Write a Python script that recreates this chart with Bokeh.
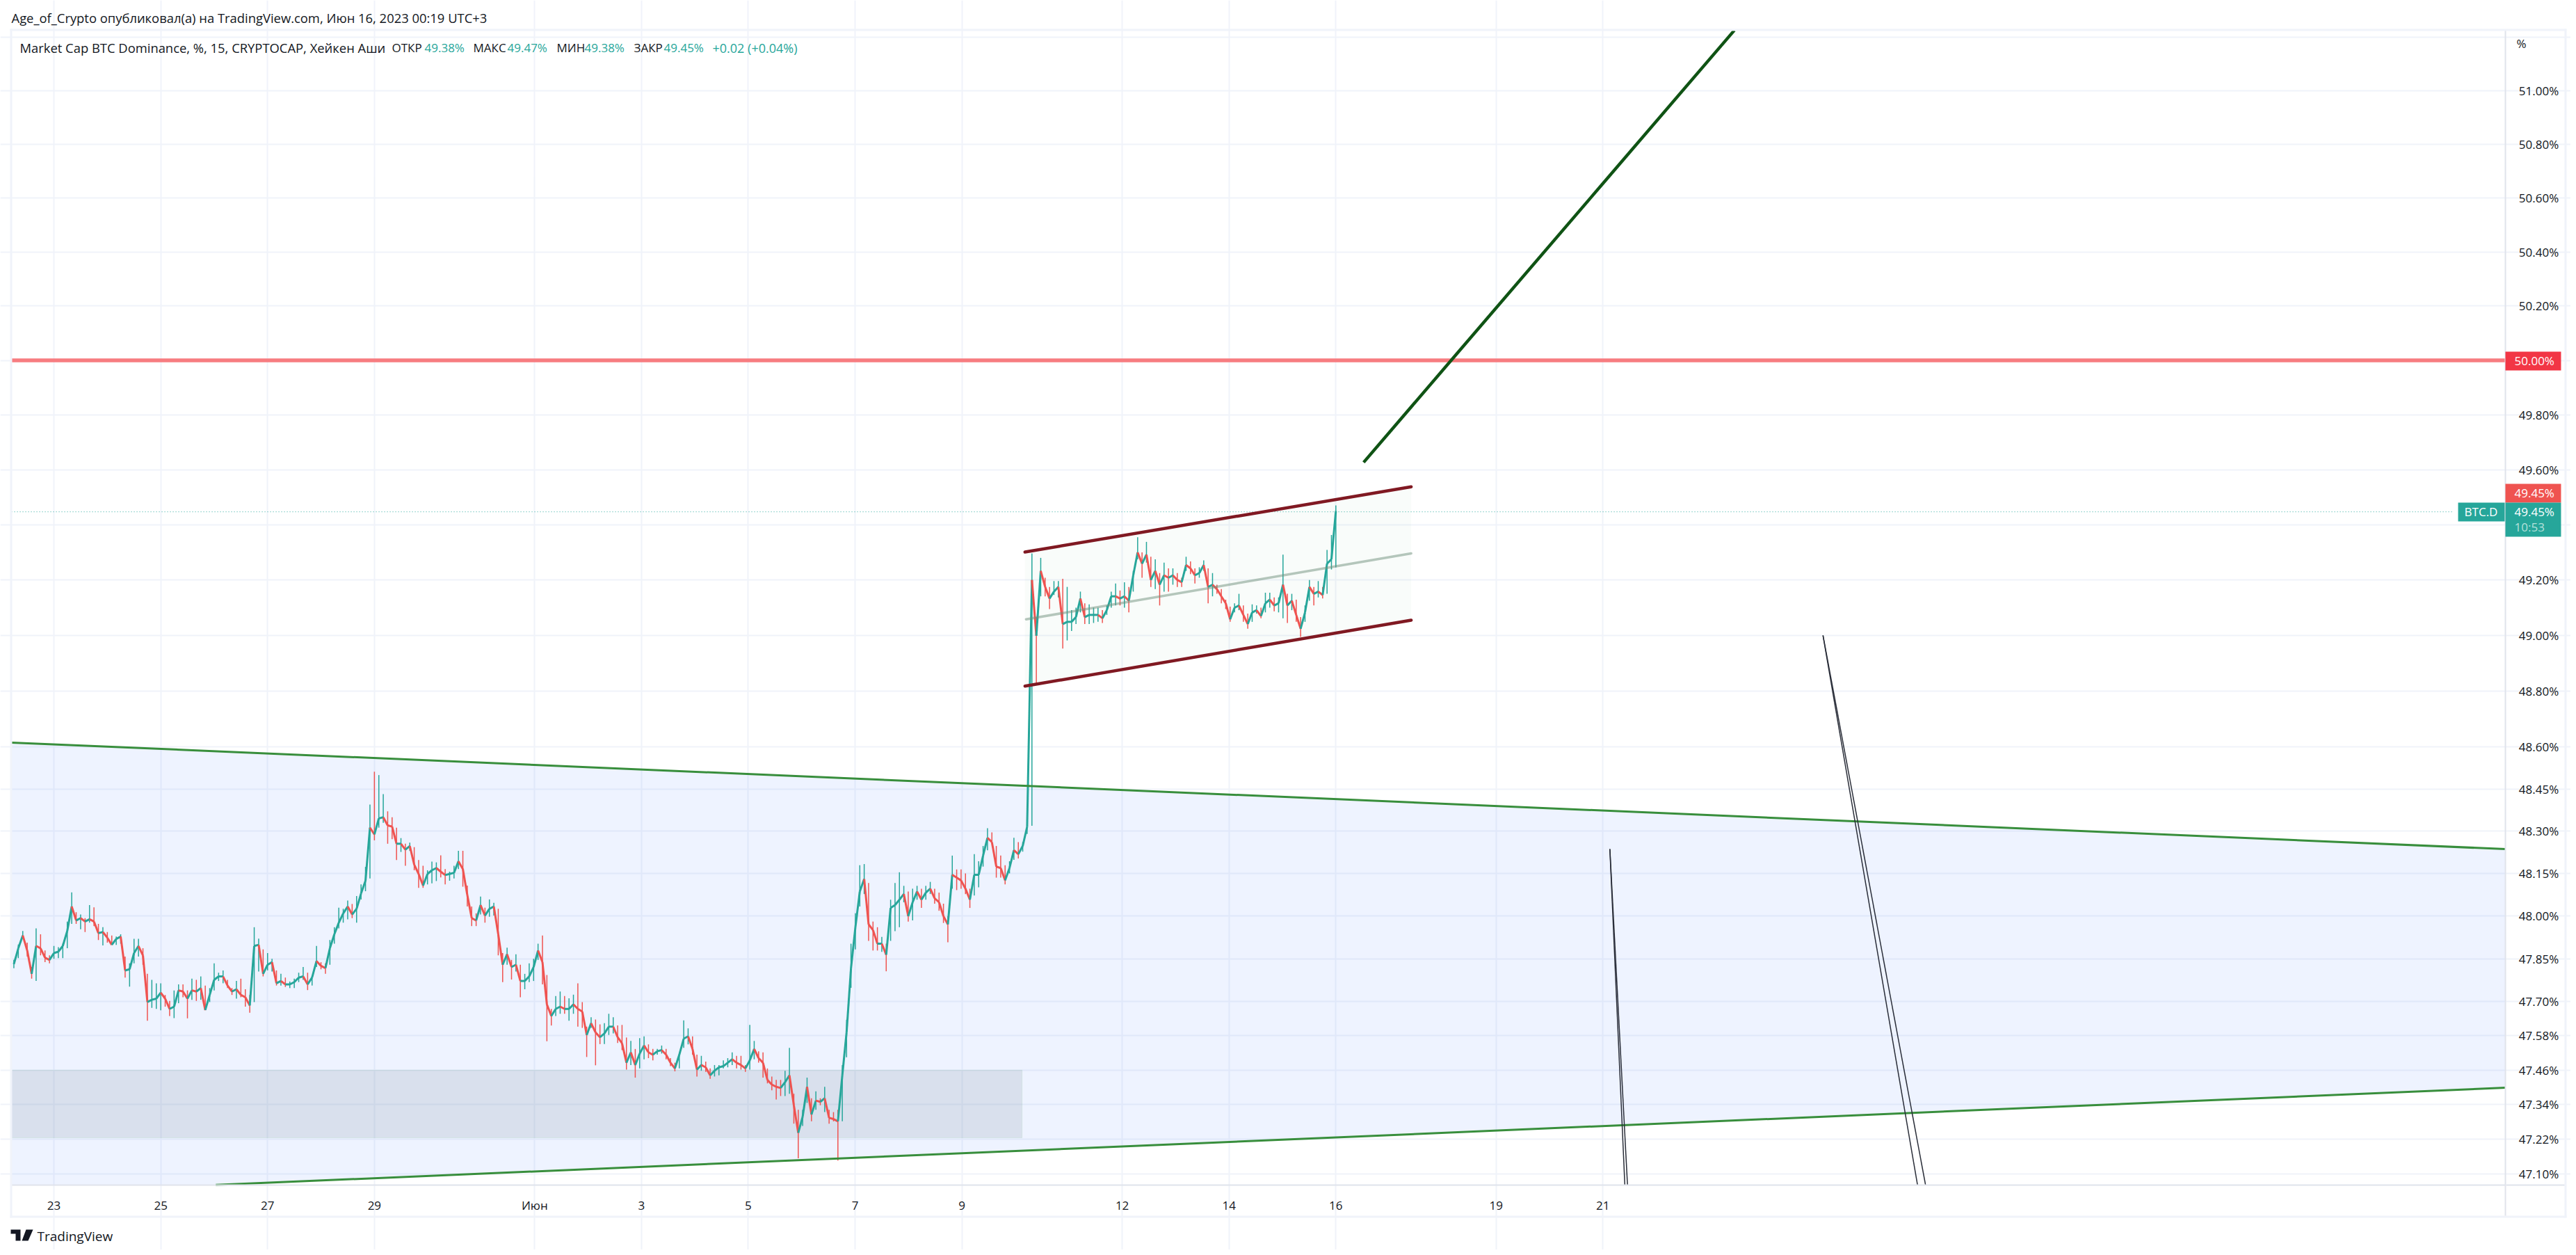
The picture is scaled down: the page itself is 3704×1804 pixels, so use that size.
import numpy as np
import pandas as pd

from bokeh.embed import file_html
from bokeh.models import (BoxAnnotation, ColumnDataSource, FixedTicker, Label,
                          PolyAnnotation, PrintfTickFormatter)
from bokeh.plotting import figure
from bokeh.resources import INLINE

# x axis is the day counted from May 1 = 1, so Jun 1 = 32
day_ticks = [23, 25, 27, 29, 32, 34, 36, 38, 40, 43, 45, 47, 50, 52]
day_labels = {23: "23", 25: "25", 27: "27", 29: "29", 32: "Июн", 34: "3", 36: "5", 38: "7",
              40: "9", 43: "12", 45: "14", 47: "16", 50: "19", 52: "21"}
price_ticks = [47.10, 47.22, 47.34, 47.46, 47.58, 47.70, 47.85, 48.00, 48.15, 48.30, 48.45, 48.60,
               48.80, 49.00, 49.20, 49.40, 49.60, 49.80, 50.00, 50.20, 50.40, 50.60, 50.80, 51.00, 51.20]

# the price pane inside the canvas, the axes are pinned to it
pane_days = (22.206, 68.9)
pane_prices = (47.0615, 51.227)

# 2 hour bars, one block per stretch of days
days_1 = (22.25, 23.0)
high_1 = [47.846, 47.90, 47.948, 47.907, 47.821, 47.957, 47.936, 47.879, 47.862, 47.895]
low_1 = [47.817, 47.852, 47.921, 47.858, 47.78, 47.772, 47.862, 47.838, 47.834, 47.85]
close_1 = [47.831, 47.887, 47.932, 47.879, 47.797, 47.895, 47.887, 47.854, 47.846, 47.87]

days_2 = (23.083, 25.0)
high_2 = [47.891, 47.903, 47.981, 48.084, 48.014, 48.006, 47.993, 48.039, 48.031, 47.973, 47.961, 47.944,
          47.932, 47.928, 47.936, 47.858, 47.834, 47.92, 47.92, 47.887, 47.797, 47.776, 47.764, 47.764]
low_2 = [47.852, 47.852, 47.887, 47.973, 47.973, 47.954, 47.944, 47.977, 47.965, 47.916, 47.897, 47.907,
         47.899, 47.899, 47.903, 47.784, 47.752, 47.834, 47.858, 47.829, 47.633, 47.678, 47.674, 47.669]
close_2 = [47.875, 47.895, 47.948, 48.034, 47.985, 47.993, 47.981, 47.989, 47.981, 47.94, 47.944, 47.924,
           47.899, 47.92, 47.928, 47.809, 47.813, 47.87, 47.895, 47.862, 47.698, 47.706, 47.71, 47.731]

days_3 = (25.083, 27.0)
high_3 = [47.723, 47.702, 47.739, 47.76, 47.76, 47.739, 47.78, 47.776, 47.788, 47.756, 47.747, 47.834,
          47.801, 47.809, 47.776, 47.747, 47.772, 47.78, 47.743, 47.723, 47.961, 47.921, 47.883, 47.87]
low_3 = [47.682, 47.649, 47.642, 47.694, 47.715, 47.641, 47.706, 47.702, 47.706, 47.669, 47.698, 47.739,
         47.772, 47.764, 47.747, 47.723, 47.71, 47.715, 47.682, 47.661, 47.698, 47.805, 47.788, 47.809]
close_3 = [47.71, 47.674, 47.682, 47.739, 47.735, 47.71, 47.739, 47.735, 47.747, 47.67, 47.723, 47.776,
           47.788, 47.788, 47.756, 47.735, 47.743, 47.723, 47.715, 47.686, 47.895, 47.899, 47.797, 47.829]

days_4 = (27.083, 29.0)
high_4 = [47.85, 47.809, 47.797, 47.784, 47.77, 47.78, 47.801, 47.821, 47.801, 47.788, 47.895, 47.838,
          47.834, 47.916, 47.961, 48.03, 48.026, 48.055, 48.043, 48.071, 48.112, 48.174, 48.395, 48.512]
low_4 = [47.805, 47.756, 47.756, 47.751, 47.747, 47.747, 47.768, 47.776, 47.74, 47.756, 47.821, 47.813,
         47.797, 47.829, 47.903, 47.957, 47.977, 47.989, 47.993, 47.977, 48.059, 48.088, 48.133, 48.268]
close_4 = [47.838, 47.764, 47.772, 47.76, 47.76, 47.768, 47.784, 47.788, 47.76, 47.784, 47.842, 47.825,
           47.817, 47.887, 47.936, 47.977, 48.01, 48.034, 48.006, 48.026, 48.08, 48.125, 48.313, 48.289]

days_5 = (29.083, 33.554)
high_5 = [48.5, 48.432, 48.371, 48.35, 48.313, 48.276, 48.256, 48.26, 48.244, 48.198, 48.178,
          48.162, 48.193, 48.19, 48.215, 48.166, 48.157, 48.178, 48.231, 48.231, 48.108, 48.034, 48.01,
          48.069, 48.03, 48.059, 48.047, 48.026, 47.87, 47.889, 47.846, 47.866, 47.829, 47.797, 47.834,
          47.85, 47.903, 47.932, 47.793, 47.674, 47.719, 47.735, 47.719, 47.711, 47.724, 47.764, 47.698,
          47.612, 47.645, 47.637, 47.62, 47.624, 47.657, 47.645, 47.616]
low_5 = [48.313, 48.33, 48.256, 48.272, 48.198, 48.227, 48.178, 48.231, 48.162, 48.1, 48.1,
         48.112, 48.116, 48.124, 48.137, 48.112, 48.125, 48.133, 48.166, 48.104, 48.034, 47.965, 47.965,
         48.006, 47.977, 47.998, 48.002, 47.862, 47.768, 47.829, 47.777, 47.805, 47.715, 47.743, 47.768,
         47.772, 47.846, 47.76, 47.561, 47.616, 47.649, 47.657, 47.657, 47.633, 47.657, 47.612, 47.608,
         47.506, 47.608, 47.477, 47.551, 47.551, 47.583, 47.588, 47.555]
close_5 = [48.346, 48.35, 48.321, 48.317, 48.256, 48.256, 48.235, 48.248, 48.182, 48.149, 48.108,
           48.149, 48.162, 48.17, 48.157, 48.145, 48.149, 48.153, 48.194, 48.166, 48.075, 47.993, 47.985,
           48.039, 48.002, 48.026, 48.034, 47.936, 47.829, 47.866, 47.821, 47.829, 47.772, 47.772, 47.788,
           47.821, 47.879, 47.838, 47.69, 47.649, 47.674, 47.682, 47.674, 47.674, 47.69, 47.674, 47.665,
           47.583, 47.624, 47.592, 47.575, 47.588, 47.612, 47.612, 47.575]

days_6 = (33.636, 37.76)
high_6 = [47.618, 47.574, 47.562, 47.534, 47.572, 47.578, 47.55, 47.534, 47.534, 47.546, 47.534, 47.502,
          47.486, 47.522, 47.634, 47.606, 47.578, 47.514, 47.51, 47.49, 47.466, 47.478, 47.478, 47.494,
          47.502, 47.522, 47.51, 47.51, 47.478, 47.618, 47.562, 47.526, 47.522, 47.466, 47.438, 47.426,
          47.426, 47.458, 47.538, 47.378, 47.322, 47.322, 47.434, 47.362, 47.386, 47.362, 47.402, 47.322,
          47.314, 47.322, 47.478]
low_6 = [47.53, 47.462, 47.478, 47.434, 47.466, 47.498, 47.502, 47.494, 47.514, 47.518, 47.498, 47.474,
         47.456, 47.466, 47.538, 47.55, 47.514, 47.438, 47.458, 47.454, 47.43, 47.438, 47.442, 47.466,
         47.47, 47.478, 47.466, 47.462, 47.454, 47.462, 47.498, 47.486, 47.434, 47.414, 47.39, 47.358,
         47.37, 47.37, 47.378, 47.274, 47.154, 47.266, 47.346, 47.282, 47.322, 47.338, 47.314, 47.274,
         47.282, 47.146, 47.282]
close_6 = [47.554, 47.486, 47.522, 47.478, 47.518, 47.546, 47.522, 47.514, 47.526, 47.53, 47.514, 47.486,
           47.466, 47.514, 47.57, 47.578, 47.534, 47.462, 47.478, 47.47, 47.442, 47.458, 47.47, 47.474,
           47.486, 47.498, 47.486, 47.478, 47.466, 47.494, 47.534, 47.502, 47.486, 47.426, 47.41, 47.402,
           47.398, 47.418, 47.442, 47.338, 47.242, 47.298, 47.402, 47.306, 47.354, 47.35, 47.362, 47.294,
           47.29, 47.282, 47.442]

days_7 = (37.84, 41.22)
high_7 = [47.636, 47.903, 48.01, 48.18, 48.184, 48.117, 47.981, 47.961, 47.927, 47.903, 48.058, 48.117,
          48.155, 48.107, 48.087, 48.097, 48.107, 48.097, 48.107, 48.121, 48.097, 48.083, 48.044, 48.0,
          48.214, 48.165, 48.165, 48.151, 48.097, 48.219, 48.194, 48.248, 48.311, 48.296, 48.248, 48.214,
          48.18, 48.194, 48.277, 48.262, 48.262, 48.34]
low_7 = [47.505, 47.748, 47.883, 48.034, 48.078, 47.913, 47.879, 47.879, 47.874, 47.806, 47.913, 47.947,
         47.961, 48.049, 47.981, 47.985, 48.058, 48.029, 48.058, 48.078, 48.044, 48.019, 47.976, 47.908,
         48.097, 48.092, 48.097, 48.078, 48.029, 48.073, 48.102, 48.175, 48.233, 48.262, 48.136, 48.136,
         48.112, 48.151, 48.199, 48.204, 48.228, 48.291]
close_7 = [47.592, 47.816, 47.961, 48.087, 48.131, 47.971, 47.951, 47.903, 47.903, 47.864, 48.029, 48.039,
           48.058, 48.078, 48.0, 48.049, 48.087, 48.058, 48.083, 48.097, 48.063, 48.049, 48.0, 47.971,
           48.146, 48.136, 48.126, 48.097, 48.058, 48.146, 48.146, 48.214, 48.277, 48.262, 48.175, 48.17,
           48.126, 48.17, 48.233, 48.219, 48.248, 48.316]

days_8 = (41.31, 47.0)
high_8 = [49.296, 49.066, 49.28, 49.208, 49.175, 49.196, 49.196, 49.204, 49.175, 49.091, 49.1, 49.158,
          49.116, 49.112, 49.1, 49.1, 49.091, 49.108, 49.158, 49.187, 49.162, 49.192, 49.175, 49.233,
          49.355, 49.3, 49.338, 49.284, 49.275, 49.225, 49.263, 49.242, 49.242, 49.225, 49.208, 49.284,
          49.267, 49.242, 49.246, 49.271, 49.242, 49.225, 49.183, 49.167, 49.129, 49.104, 49.116, 49.15,
          49.108, 49.079, 49.112, 49.108, 49.1, 49.154, 49.154, 49.137, 49.137, 49.292, 49.15, 49.15,
          49.129, 49.066, 49.108, 49.2, 49.175, 49.196, 49.175, 49.309, 49.363, 49.47]
low_8 = [48.32, 48.828, 49.141, 49.141, 49.095, 49.146, 49.137, 48.953, 48.982, 49.016, 49.041, 49.083,
         49.041, 49.041, 49.045, 49.049, 49.045, 49.074, 49.1, 49.108, 49.108, 49.1, 49.083, 49.158,
         49.275, 49.208, 49.263, 49.175, 49.167, 49.108, 49.158, 49.158, 49.183, 49.175, 49.175, 49.233,
         49.221, 49.187, 49.208, 49.233, 49.116, 49.141, 49.15, 49.116, 49.095, 49.049, 49.083, 49.091,
         49.049, 49.024, 49.049, 49.079, 49.062, 49.083, 49.1, 49.087, 49.083, 49.062, 49.045, 49.091,
         49.049, 48.995, 49.049, 49.125, 49.108, 49.137, 49.133, 49.15, 49.238, 49.246]
close_8 = [49.2, 48.999, 49.233, 49.175, 49.133, 49.158, 49.175, 49.041, 49.049, 49.049, 49.066, 49.133,
           49.066, 49.074, 49.074, 49.074, 49.062, 49.091, 49.141, 49.141, 49.133, 49.141, 49.125, 49.217,
           49.3, 49.259, 49.292, 49.2, 49.233, 49.183, 49.217, 49.208, 49.217, 49.2, 49.192, 49.254,
           49.242, 49.217, 49.225, 49.254, 49.175, 49.183, 49.167, 49.141, 49.116, 49.058, 49.1, 49.108,
           49.074, 49.041, 49.083, 49.091, 49.07, 49.116, 49.129, 49.108, 49.116, 49.183, 49.108, 49.125,
           49.074, 49.024, 49.083, 49.175, 49.15, 49.158, 49.146, 49.259, 49.275, 49.45]

# drawn objects as (day, price) pairs
wedge_top_days, wedge_top_prices = [22.206, 68.9], [48.616, 48.237]
wedge_bot_days, wedge_bot_prices = [26.03, 68.9], [47.0615, 47.399]
zone_days, zone_low, zone_high = [22.206, 41.125], 47.225, 47.46
chan_top_days, chan_top_prices = [41.18, 48.41], [49.301, 49.538]
chan_mid_days, chan_mid_prices = [41.2, 48.41], [49.058, 49.296]
chan_bot_days, chan_bot_prices = [41.18, 48.41], [48.818, 49.055]
arrow_days, arrow_prices = [47.52, 54.46], [49.627, 51.227]
res_days, res_price = [22.206, 68.9], 50.00
last_days, last_price = [22.206, 67.9], 49.447
pen_a_days, pen_a_prices = [52.13, 52.41], [48.237, 47.0615]
pen_b_days, pen_b_prices = [52.13, 52.46], [48.237, 47.0615]
pen_c_days, pen_c_prices = [56.12, 57.89], [49.0, 47.0615]
pen_d_days, pen_d_prices = [56.12, 58.04], [49.0, 47.0615]

TEAL = "#26A69A"
RED = "#EF5350"
FONT = "Open Sans"


# canvas units count from the top left of the page
def text(p, x, y, txt, color="#131722", size="17px", align="left", weight="normal"):
    p.add_layout(Label(x=x, y=y, x_units="canvas", y_units="canvas", text=txt, text_color=color,
                       text_font=FONT, text_font_size=size, text_align=align, text_baseline="middle",
                       text_font_style=weight, level="overlay"))


def box(p, x0, x1, y0, y1, color):
    p.add_layout(BoxAnnotation(left=x0, right=x1, top=y0, bottom=y1,
                               left_units="canvas", right_units="canvas", top_units="canvas",
                               bottom_units="canvas", fill_color=color, fill_alpha=1.0,
                               line_color=None, level="overlay"))


sections = [(days_1, high_1, low_1, close_1), (days_2, high_2, low_2, close_2), (days_3, high_3, low_3, close_3),
            (days_4, high_4, low_4, close_4), (days_5, high_5, low_5, close_5), (days_6, high_6, low_6, close_6),
            (days_7, high_7, low_7, close_7), (days_8, high_8, low_8, close_8)]
frames = []
for (first, last), h, l, c in sections:
    frames.append(pd.DataFrame({"day": np.linspace(first, last, len(c)), "high": h, "low": l, "close": c}))
df = pd.concat(frames, ignore_index=True)
df["open"] = df["close"].shift(1).fillna(df["close"])
df["prev_day"] = df["day"].shift(1).fillna(df["day"])
df["color"] = np.where(df["close"] >= df["open"], TEAL, RED)
source = ColumnDataSource(df)

# the frame fills the whole canvas so the header and the price tags are not
# clipped, the real axes are then pinned at the edges of the pane
p = figure(width=3696, height=1796, output_backend="svg", toolbar_location=None, y_axis_type="log",
           y_axis_location="right", x_range=(21.997, 70.12), y_range=(46.838, 51.34),
           min_border_left=0, min_border_right=0, min_border_top=0, min_border_bottom=0,
           background_fill_color="white", border_fill_color="white")
p.outline_line_color = None

p.xaxis.fixed_location = pane_prices[0]
p.xaxis.bounds = pane_days
p.xaxis.ticker = FixedTicker(ticks=day_ticks)
p.xaxis.major_label_overrides = day_labels
p.xaxis.major_tick_line_color = None
p.xaxis.minor_tick_line_color = None
p.xaxis.axis_line_color = "#E0E3EB"
p.xaxis.axis_line_width = 2
p.xaxis.major_label_text_font = FONT
p.xaxis.major_label_text_font_size = "17px"
p.xaxis.major_label_text_color = "#131722"
p.xaxis.major_label_standoff = 12

p.yaxis.fixed_location = pane_days[1]
p.yaxis.bounds = pane_prices
p.yaxis.ticker = FixedTicker(ticks=price_ticks)
p.yaxis.formatter = PrintfTickFormatter(format="%.2f%%")
p.yaxis.major_label_overrides = {51.2: "", 49.4: ""}
p.yaxis.major_tick_line_color = None
p.yaxis.minor_tick_line_color = None
p.yaxis.axis_line_color = "#E0E3EB"
p.yaxis.axis_line_width = 2
p.yaxis.major_label_text_font = FONT
p.yaxis.major_label_text_font_size = "17px"
p.yaxis.major_label_text_color = "#131722"
p.yaxis.major_label_standoff = 13

p.xgrid.grid_line_color = "#F0F3FA"
p.ygrid.grid_line_color = "#F0F3FA"
p.xgrid.grid_line_width = 2
p.ygrid.grid_line_width = 2
p.xgrid.bounds = pane_prices
p.ygrid.bounds = pane_days

# shaded regions first, the candles sit on top of them
p.patch(wedge_top_days + wedge_bot_days[::-1] + [22.206], wedge_top_prices + wedge_bot_prices[::-1] + [pane_prices[0]],
        fill_color="#2962FF", fill_alpha=0.08, line_color=None)
p.quad(left=zone_days[0], right=zone_days[1], bottom=zone_low, top=zone_high,
       fill_color="#627A85", fill_alpha=0.15, line_color="#4CAF50", line_alpha=0.1)
p.patch(chan_top_days + chan_bot_days[::-1], chan_top_prices + chan_bot_prices[::-1],
        fill_color="#4CAF50", fill_alpha=0.03, line_color=None)

p.line([last_days[0], last_days[1]], [last_price, last_price], line_color=TEAL, line_width=1, line_dash="1 3")

p.segment("day", "low", "day", "high", source=source, line_color="color", line_width=1.5)
p.segment("prev_day", "open", "day", "close", source=source, line_color="color", line_width=3)

p.line(wedge_top_days, wedge_top_prices, line_color="#388E3C", line_width=3)
p.line(wedge_bot_days, wedge_bot_prices, line_color="#388E3C", line_width=3)
p.line(res_days, [res_price, res_price], line_color="#F77C80", line_width=5.5)
p.line(chan_mid_days, chan_mid_prices, line_color="#6F8F7C", line_alpha=0.5, line_width=3.5, line_cap="round")
p.line(chan_top_days, chan_top_prices, line_color="#801922", line_width=4.5, line_cap="round")
p.line(chan_bot_days, chan_bot_prices, line_color="#801922", line_width=4.5, line_cap="round")
p.line(arrow_days, arrow_prices, line_color="#0F5314", line_width=4.5)
for d, v in [(pen_a_days, pen_a_prices), (pen_b_days, pen_b_prices), (pen_c_days, pen_c_prices), (pen_d_days, pen_d_prices)]:
    p.line(d, v, line_color="#2A2E39", line_width=1.5)

# frame round the chart and the axis extensions
box(p, 14, 3690, 41, 44, "#F0F3FA")
box(p, 14, 17, 41, 1750, "#F0F3FA")
box(p, 14, 3690, 1747, 1750, "#F0F3FA")
box(p, 3687, 3690, 41, 1750, "#F0F3FA")
box(p, 3601, 3603, 1703, 1747, "#E0E3EB")
box(p, 3603, 3687, 1702, 1704, "#E0E3EB")

# price tags on the scale
box(p, 3602, 3682, 505, 532, "#F23645")
box(p, 3602, 3682, 695, 722, RED)
box(p, 3602, 3682, 722, 771, TEAL)
box(p, 3534, 3601, 722, 749, TEAL)
text(p, 3615, 518, "50.00%", color="white")
text(p, 3615, 708, "49.45%", color="white")
text(p, 3615, 735, "49.45%", color="white")
text(p, 3615, 757, "10:53", color="#B5E0DB")
text(p, 3567, 735, "BTC.D", color="white", align="center")
text(p, 3618, 62, "%")

text(p, 16, 25, "Age_of_Crypto опубликовал(а) на TradingView.com, Июн 16, 2023 00:19 UTC+3", size="18.4px")
text(p, 28, 68, "Market Cap BTC Dominance, %, 15, CRYPTOCAP, Хейкен Аши", size="18.4px")
for x, txt, col in [(563, "ОТКР", "#131722"), (610, "49.38%", TEAL), (680, "МАКС", "#131722"), (729, "49.47%", TEAL),
                    (800, "МИН", "#131722"), (840, "49.38%", TEAL), (911, "ЗАКР", "#131722"), (954, "49.45%", TEAL),
                    (1024, "+0.02 (+0.04%)", TEAL)]:
    text(p, x, 68, txt, color=col, size="18px" if x == 1024 else "17px")

# TradingView mark and name under the chart
for xs, ys in [([15, 29, 29, 22, 22, 15], [1767, 1767, 1783, 1783, 1773, 1773]),
               ([37, 47, 40, 31], [1767, 1767, 1783, 1783])]:
    p.add_layout(PolyAnnotation(xs=xs, ys=ys, xs_units="canvas", ys_units="canvas", level="overlay",
                                fill_color="#131722", fill_alpha=1.0, line_color=None))
text(p, 53, 1776, "TradingView", size="19px")

open("out.html", "w").write(file_html(p, INLINE))
